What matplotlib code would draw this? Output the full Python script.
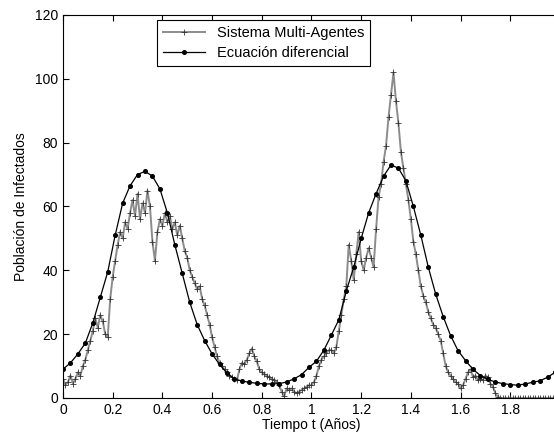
import numpy as np
import matplotlib
matplotlib.use("Agg")
import matplotlib.pyplot as plt

plt.rcParams['font.family'] = ['Liberation Sans', 'DejaVu Sans']

# Ecuación diferencial, one value every 0.03 years
t_ode = np.arange(67) * 0.03
ode = [9, 11, 13.8, 17.2, 23.5, 31.5, 39.5, 51, 61, 66.5,
       70, 71, 69.5, 65.5, 58, 48, 39, 30, 23, 18,
       13.8, 10.5, 7.8, 6, 5.3, 4.9, 4.6, 4.4, 4.4, 4.5,
       5, 6, 7.3, 9.6, 11.5, 15, 19.7, 24.5, 33.5, 41,
       50, 58, 64, 69.5, 73, 72, 68, 60, 51, 41,
       32.5, 25.5, 19.5, 14.8, 11.7, 9, 7, 5.8, 5, 4.5,
       4.2, 4.0, 4.4, 4.9, 5.4, 6.5, 8]

# Sistema Multi-Agentes, one value every 0.01 years
t_sma = np.arange(200) * 0.01
sma = [6, 4, 5, 7, 4.5, 6, 8, 7, 10, 12,
       15, 18, 21, 25, 22, 26, 24, 20, 19, 31,
       38, 43, 48, 52, 50, 55, 53, 58, 62, 57,
       64, 56, 61, 58, 65, 60, 49, 43, 52, 56,
       54, 58, 55, 57, 53, 55, 51, 54, 50, 46,
       44, 40, 38, 36, 34, 35, 31, 29, 26, 23,
       19, 16, 13, 11, 10, 9, 8, 7, 6.5, 6,
       5.5, 9, 11, 10.5, 12, 14, 15.5, 13, 11.5, 9,
       8, 7.5, 7, 6.5, 6, 5.5, 5, 4, 2, 0.5,
       3, 2.5, 3, 2, 1.5, 2, 2.5, 3, 3.5, 4,
       4, 5, 7, 10, 12, 13, 14, 15, 15, 14,
       16, 21, 26, 31, 35, 48, 43, 37, 45, 52,
       43, 40, 44, 47, 44, 41, 53, 63, 67, 74,
       79, 88, 95, 102, 93, 86, 77, 72, 67, 62,
       56, 49, 45, 40, 35, 32, 30, 27, 25, 23,
       22, 20, 18, 14, 10, 8, 7, 6, 5, 4.5,
       3, 4, 6, 8, 9, 6.5, 7, 5.5, 6, 5.5,
       7, 6.5, 4.5, 3.5, 1.5, 0.3, 0, 0, 0, 0,
       0, 0, 0, 0, 0, 0, 0, 0, 0, 0,
       0, 0, 0, 0, 0, 0, 0, 0, 0, 0]

fig = plt.figure(figsize=(5.54, 4.40), dpi=100)
ax = fig.add_axes([0.1137, 0.0955, 0.8971, 0.8705])

ax.plot(t_sma, sma, color='0.55', lw=1.4, marker='+', ms=4,
        mec='0.2', mew=0.6, label='Sistema Multi-Agentes')
ax.plot(t_ode, ode, color='black', lw=0.9, marker='o', ms=2.6,
        mfc='black', mec='black', label='Ecuación diferencial')

ax.set_xlim(0, 2)
ax.set_ylim(0, 120)
ax.set_xticks(np.arange(0, 2.01, 0.2))
# the right end of the axis lies just outside the picture
ax.set_xticklabels(['0', '0.2', '0.4', '0.6', '0.8', '1', '1.2', '1.4', '1.6', '1.8', ''])
ax.set_yticks(range(0, 121, 20))
ax.tick_params(direction='in', top=True, right=True, labelsize=10, length=4)
ax.set_xlabel('Tiempo t (Años)', fontsize=10, labelpad=1)
ax.set_ylabel('Población de Infectados', fontsize=10, labelpad=5)

leg = ax.legend(loc='upper left', bbox_to_anchor=(0.189, 0.987), fontsize=10.5,
                fancybox=False, edgecolor='black', framealpha=1,
                borderaxespad=0, handlelength=2.9, labelspacing=0.45,
                borderpad=0.4)
leg.get_frame().set_linewidth(0.8)

fig.savefig('out.png', dpi=100)
